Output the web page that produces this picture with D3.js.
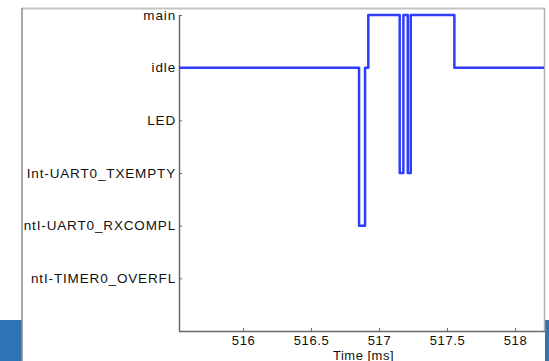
<!DOCTYPE html>
<html><head><meta charset="utf-8">
<script src="https://cdn.jsdelivr.net/npm/d3@7"></script>
<style>body{margin:0;background:#fff}svg{display:block}</style>
</head><body>
<script>
const categories = ["main","idle","LED","Int-UART0_TXEMPTY","ntI-UART0_RXCOMPL","ntI-TIMER0_OVERFL"];
const times = [515.529, 516.853, 516.897, 516.921, 517.152, 517.179, 517.211, 517.233, 517.554, 518.213];
const states = ["idle","ntI-UART0_RXCOMPL","idle","main","Int-UART0_TXEMPTY","main","Int-UART0_TXEMPTY","main","idle","idle"];
const xTicks = [516, 516.5, 517, 517.5, 518];
const xDomain = [515.529, 518.213];

const W = 549, H = 361;
const svg = d3.select("body").append("svg").attr("width", W).attr("height", H);
const L = 179, R = 544, T = 15, B = 331;

// slide decorations
svg.append("rect").attr("x",0).attr("y",320).attr("width",22).attr("height",41).attr("fill","#2e75b6");
svg.append("rect").attr("x",545).attr("y",320).attr("width",4).attr("height",41).attr("fill","#2e75b6");
svg.append("line").attr("x1",22).attr("x2",545).attr("y1",8.5).attr("y2",8.5).attr("stroke","#c4c4c4").attr("stroke-width",2);
svg.append("line").attr("x1",22).attr("x2",22).attr("y1",8).attr("y2",361).attr("stroke","#8a8a8a").attr("stroke-width",1.5);
svg.append("line").attr("x1",544.5).attr("x2",544.5).attr("y1",8).attr("y2",B).attr("stroke","#b0b0b0").attr("stroke-width",1.5);

svg.append("clipPath").attr("id","lc").append("rect").attr("x",23 - L).attr("y",0).attr("width",W).attr("height",H);

const x = d3.scaleLinear().domain(xDomain).range([L, R]);
const yi = d3.scaleLinear().domain([0, categories.length]).range([T, B]);
const y = c => yi(categories.indexOf(c));

const fontFam = "'Liberation Sans', Arial, sans-serif";

const ya = svg.append("g").attr("transform", `translate(${L},0)`).attr("clip-path","url(#lc)")
  .call(d3.axisLeft(d3.scalePoint().domain(categories).range([yi(0), yi(categories.length-1)]))
    .tickSizeInner(-3).tickSizeOuter(0).tickPadding(3));
ya.select(".domain").remove();
ya.selectAll(".tick line").attr("stroke","#666");
ya.selectAll(".tick text").attr("font-family",fontFam).attr("font-size",13.5).attr("letter-spacing","0.85px").attr("fill","#111");
svg.append("line").attr("x1",L+0.5).attr("x2",L+0.5).attr("y1",T).attr("y2",B).attr("stroke","#6a6a6a").attr("stroke-width",1.5);

const xa = svg.append("g").attr("transform", `translate(0,${B})`)
  .call(d3.axisBottom(x).tickValues(xTicks).tickFormat(d3.format("")).tickSizeInner(-3).tickSizeOuter(0).tickPadding(5));
xa.select(".domain").remove();
xa.selectAll(".tick line").attr("stroke","#666");
xa.selectAll(".tick text").attr("font-family",fontFam).attr("font-size",13).attr("letter-spacing","0.6px").attr("fill","#111");
svg.append("line").attr("x1",L).attr("x2",R+1).attr("y1",B+0.5).attr("y2",B+0.5).attr("stroke","#6a6a6a").attr("stroke-width",1.5);

svg.append("text").attr("x",(L+R)/2+2).attr("y",359.5).attr("text-anchor","middle")
  .attr("font-family",fontFam).attr("font-size",13).attr("letter-spacing","0.5px").attr("fill","#111").text("Time [ms]");

const pts = times.map((t,i)=>[t, states[i]]);
const line = d3.line().x(d=>x(d[0])).y(d=>y(d[1])).curve(d3.curveStepAfter);
svg.append("path").attr("d", line(pts)).attr("fill","none").attr("stroke","#2f3dff").attr("stroke-width",2.5).attr("stroke-linejoin","round");
</script>
</body></html>
